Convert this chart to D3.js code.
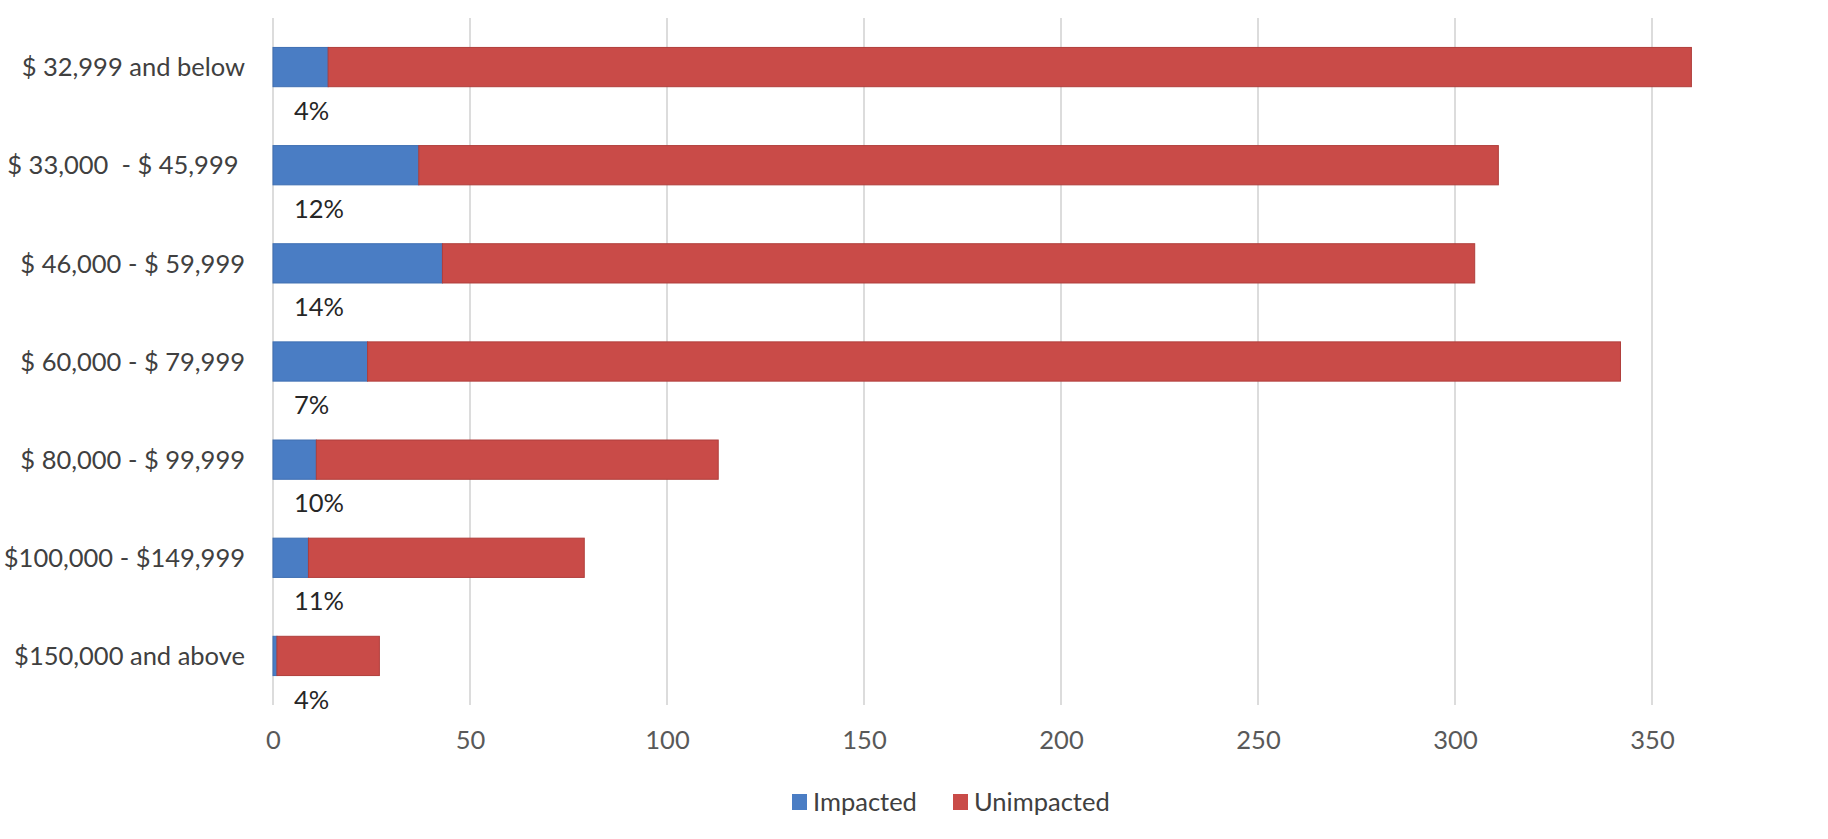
<!DOCTYPE html>
<html>
<head>
<meta charset="utf-8">
<script src="https://cdn.jsdelivr.net/npm/d3@7"></script>
<style>
  html, body { margin: 0; padding: 0; background: #ffffff; }
  svg { display: block; font-family: Lato, "Open Sans", sans-serif; }
</style>
</head>
<body>
<svg id="chart" width="1828" height="839"></svg>
<script>
// Income brackets, top to bottom
const categories = [
  "$ 32,999 and below",
  "$ 33,000  - $ 45,999 ",
  "$ 46,000 - $ 59,999",
  "$ 60,000 - $ 79,999",
  "$ 80,000 - $ 99,999",
  "$100,000 - $149,999",
  "$150,000 and above"
];
// Counts per bracket
const impacted   = [14, 37, 43, 24, 11, 9, 1];
const unimpacted = [346, 274, 262, 318, 102, 70, 26];
const seriesNames = ["Impacted", "Unimpacted"];
const xTicks = [0, 50, 100, 150, 200, 250, 300, 350];

const colors = { Impacted: "#4a7dc4", Unimpacted: "#c94b48" };
const strokes = { Impacted: "#3f6fb2", Unimpacted: "#b03e3b" };

const rows = categories.map((c, i) => ({
  category: c, Impacted: impacted[i], Unimpacted: unimpacted[i]
}));

const svg = d3.select("#chart");

const x = d3.scaleLinear().domain([0, 400]).range([273, 1849]);
const y = d3.scaleBand().domain(categories).range([18, 705])
  .paddingInner(0.6).paddingOuter(0.3);

// Vertical gridlines
svg.append("g").selectAll("line").data(xTicks).join("line")
  .attr("x1", d => x(d)).attr("x2", d => x(d))
  .attr("y1", 18).attr("y2", 705)
  .attr("stroke", "#d4d4d4").attr("stroke-width", 1.6);

// Stacked bars
const stacked = d3.stack().keys(seriesNames)(rows);
svg.append("g").selectAll("g").data(stacked).join("g")
  .attr("fill", s => colors[s.key])
  .attr("stroke", s => strokes[s.key])
  .attr("stroke-width", 1)
  .selectAll("rect").data(s => s).join("rect")
  .attr("x", d => x(d[0]))
  .attr("y", d => y(d.data.category))
  .attr("width", d => x(d[1]) - x(d[0]))
  .attr("height", y.bandwidth());

// Category labels
svg.append("g").selectAll("text").data(categories).join("text")
  .attr("x", 245)
  .attr("y", d => y(d) + y.bandwidth() / 2)
  .attr("dy", "0.36em")
  .attr("text-anchor", "end")
  .attr("font-size", 25.5)
  .attr("fill", "#404040")
  .style("white-space", "pre")
  .text(d => d);

// Share of impacted households, under each bar
svg.append("g").selectAll("text").data(rows).join("text")
  .attr("x", x(0) + 21)
  .attr("y", d => y(d.category) + y.bandwidth() + 33)
  .attr("font-size", 25.5)
  .attr("fill", "#262626")
  .text(d => Math.round(d.Impacted / (d.Impacted + d.Unimpacted) * 100) + "%");

// X axis tick labels
const xAxis = d3.axisBottom(x).tickValues(xTicks).tickSize(0).tickPadding(0);
const axisG = svg.append("g").attr("transform", "translate(0,731)").call(xAxis);
axisG.select(".domain").remove();
axisG.selectAll("text")
  .attr("font-size", 25.5)
  .attr("font-family", "Lato, 'Open Sans', sans-serif")
  .attr("fill", "#595959")
  .attr("dy", "0.71em");

// Legend
const legend = svg.append("g");
const legendItems = [
  { name: "Impacted", sx: 792, tx: 813 },
  { name: "Unimpacted", sx: 953, tx: 974 }
];
legend.selectAll("rect").data(legendItems).join("rect")
  .attr("x", d => d.sx).attr("y", 794)
  .attr("width", 15).attr("height", 16)
  .attr("fill", d => colors[d.name]);
legend.selectAll("text").data(legendItems).join("text")
  .attr("x", d => d.tx).attr("y", 802)
  .attr("dy", "0.36em")
  .attr("font-size", 25.5)
  .attr("fill", "#404040")
  .text(d => d.name);
</script>
</body>
</html>
